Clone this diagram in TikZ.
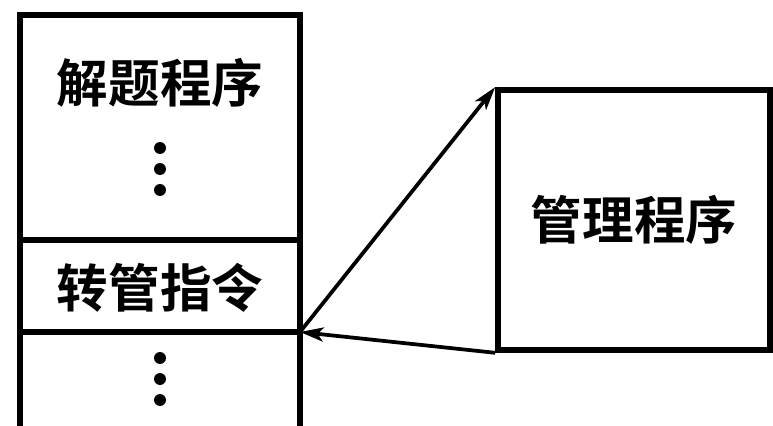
\documentclass[tikz,border=0pt]{standalone}
\usepackage{fontspec}
\usetikzlibrary{arrows.meta}
\newfontfamily\cjk{Noto Sans CJK SC Bold}
\tikzset{
  dot/.style = {fill = black},
  jumparrow/.style = {line width = 3.2pt, -{Stealth[length=20pt, width=12pt, inset=5pt]}}
}

\begin{document}
\begin{tikzpicture}[line width = 4.8pt, x = 0.03cm, y = -0.03cm]
			\useasboundingbox (0,0) rectangle (773,426);
			\cjk\fontsize{44}{44}\selectfont
			% user program column, open at the bottom
			\draw (20,440) -- (20,15) -- (300,15) -- (300,440);
			\draw (20,240) -- (300,240);
			\draw [line width = 5.8pt] (20,332) -- (300,332);
			\coordinate (jump) at (300,332);
			\node (solve) at (160,83) {解题程序};
			\node (trap) at (160,288) {转管指令};
			\foreach \y in {148,169,190,358,379,400}
				\fill [dot] (160,\y) circle (6);
			% supervisor box
			\node [draw, inner sep = 0, minimum width = 8.16cm, minimum height = 7.8cm] (mgr) at (634,220) {管理程序};
			\draw [jumparrow] (jump) -- (mgr.north west);
			\draw [jumparrow] (mgr.south west) -- (jump);
			\end{tikzpicture}
\end{document}
